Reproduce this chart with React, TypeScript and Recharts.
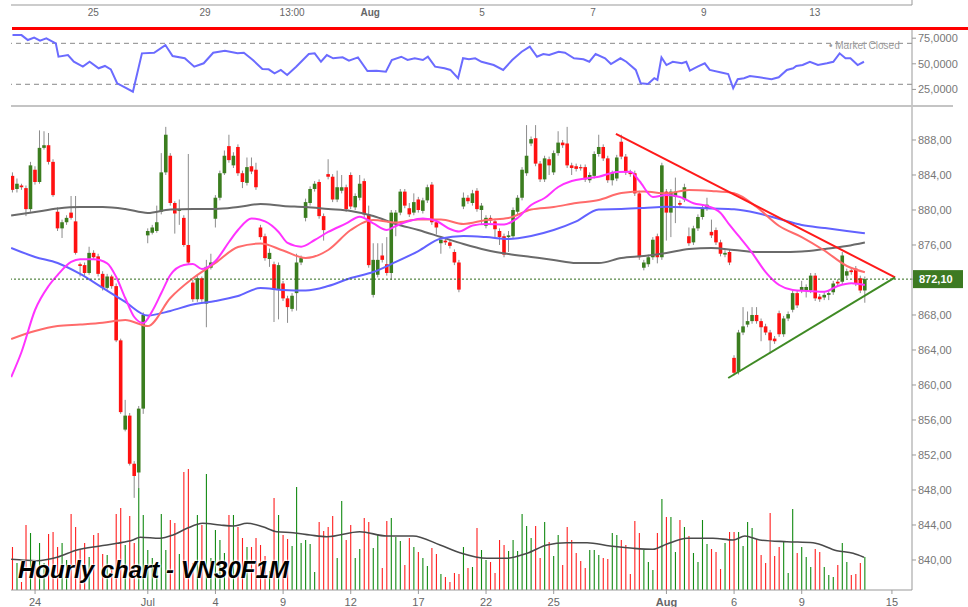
import React from 'react';
import { ComposedChart, Bar, Line, XAxis, YAxis, ReferenceLine } from 'recharts';

// ---------- candle data (hourly, index = candle number) ----------
const opens = [
  883.9,882.4,882.8,882.5,880.1,884.6,883.2,887.1,887.4,885.5,
  879.8,877.9,878.6,879.7,878.7,873.8,873.7,872.8,875.1,874.7,
  872.7,871.1,872.4,871.3,865.1,854.9,856.5,851.0,850.0,857.3,
  877.1,877.4,877.6,879.8,884.3,886.2,880.8,879.9,879.1,876.0,
  871.7,869.8,872.2,869.3,873.4,879.0,881.4,884.2,887.3,885.1,
  887.2,884.2,883.1,885.0,884.6,878.0,877.0,874.4,873.8,870.9,
  871.6,869.9,868.7,870.5,874.0,879.1,880.8,882.4,883.2,879.3,
  884.1,883.8,881.2,882.2,882.6,884.0,880.3,881.4,883.3,879.5,
  870.3,872.6,874.8,873.8,872.8,878.5,879.7,882.1,880.2,879.7,
  881.2,879.9,881.1,882.9,878.6,876.2,876.5,876.3,875.2,874.0,
  880.4,881.4,880.8,882.2,880.0,878.2,879.1,878.7,877.6,877.0,
  876.9,877.0,879.8,881.4,884.2,887.6,888.2,885.3,883.5,885.8,
  884.3,886.5,887.7,887.6,885.1,885.0,884.9,884.9,883.4,883.9,
  886.4,887.2,885.9,883.4,883.6,887.8,886.1,884.3,884.2,881.9,
  873.4,873.8,874.6,877.0,874.6,882.1,879.7,881.5,880.8,881.2,
  877.0,876.3,877.9,879.2,880.2,877.5,877.7,876.3,874.9,875.2,
  863.1,861.5,866.0,866.9,867.3,868.0,867.3,866.7,866.0,865.3,
  868.2,865.8,867.6,868.6,870.5,870.8,870.8,870.8,872.5,870.1,
  870.0,870.3,870.6,871.8,871.8,872.5,873.1,873.3,872.2,870.8,
];
const highs = [
  884.3,883.6,883.0,882.8,885.5,885.0,889.1,889.0,888.8,885.8,
  880.3,878.9,879.4,881.6,881.6,874.0,874.0,875.8,875.4,875.0,
  873.0,872.7,872.6,871.6,865.3,858.3,856.8,851.3,857.6,868.3,
  877.9,878.3,880.5,886.5,889.5,886.5,881.0,881.2,879.4,886.4,
  872.0,872.5,872.4,874.3,875.0,881.7,884.5,886.8,888.6,886.6,
  887.5,884.5,886.0,886.0,885.4,878.3,877.3,875.6,874.1,874.0,
  871.9,870.2,870.5,875.0,874.8,881.3,882.7,883.3,883.5,879.6,
  885.8,884.1,884.5,884.0,882.9,884.3,881.9,884.0,883.6,880.5,
  876.2,876.2,876.2,876.9,880.0,880.0,882.4,882.4,880.8,881.9,
  881.5,881.4,882.9,883.2,878.9,876.9,876.8,876.6,875.5,874.3,
  882.0,881.7,882.3,882.5,880.8,879.4,879.4,879.0,877.9,877.3,
  877.6,880.3,881.7,884.9,889.7,888.4,889.7,885.6,886.2,886.1,
  886.8,889.0,888.0,889.5,885.4,885.3,885.2,885.2,884.3,886.7,
  888.6,887.5,886.2,884.5,886.3,888.6,886.4,884.6,884.5,882.2,
  874.3,874.9,876.9,877.3,885.4,882.4,882.4,883.7,881.1,883.0,
  878.0,878.2,879.5,880.5,881.4,878.9,878.0,876.6,875.4,875.5,
  863.4,866.3,868.9,868.4,868.9,868.9,867.6,867.0,866.3,865.6,
  868.5,867.9,868.4,870.8,870.8,871.9,871.5,872.8,872.8,870.4,
  870.6,870.8,871.9,872.1,875.2,873.3,873.4,873.6,872.5,872.4,
];
const lows = [
  882.0,882.0,882.3,879.3,879.8,882.9,883.0,886.9,885.2,881.5,
  877.6,876.8,878.3,878.9,874.9,872.4,872.5,872.6,874.3,872.4,
  870.8,870.9,871.0,864.9,856.7,854.7,850.8,847.1,848.2,856.7,
  876.2,877.2,877.4,879.5,884.0,880.5,877.3,878.3,875.8,873.8,
  869.5,869.5,869.5,866.6,873.2,878.0,881.1,884.0,885.4,884.8,
  883.9,882.5,882.8,884.1,882.3,876.6,874.2,873.5,867.2,867.5,
  869.6,867.1,868.4,868.5,873.7,878.7,880.5,882.1,879.0,876.5,
  883.5,880.9,880.9,881.9,879.8,880.1,880.0,881.1,879.2,873.4,
  870.0,872.3,874.0,872.5,872.0,877.0,879.4,880.2,879.2,879.4,
  879.7,879.6,880.8,878.3,877.2,875.0,876.0,875.6,873.7,870.6,
  880.1,880.7,880.5,879.8,878.4,877.9,878.5,876.9,876.0,874.6,
  875.2,876.7,879.5,881.1,883.9,887.3,885.0,883.2,883.2,884.0,
  884.0,886.2,887.1,884.8,884.0,884.4,884.5,883.2,883.1,883.6,
  886.1,885.6,883.1,882.8,883.3,885.8,884.0,883.8,881.6,874.3,
  873.1,873.5,874.3,873.9,874.3,876.5,876.9,878.5,880.3,880.9,
  875.9,876.0,877.6,878.9,879.9,876.8,876.0,874.7,874.6,873.7,
  861.1,861.2,865.7,866.6,867.0,867.0,865.0,865.7,863.6,864.7,
  865.5,865.5,867.3,868.3,868.8,870.5,870.0,870.5,869.6,869.5,
  869.7,869.7,870.3,871.3,871.5,872.2,872.6,871.3,870.5,869.4,
];
const closes = [
  882.3,883.0,882.6,880.1,885.1,883.2,887.1,887.4,885.5,881.7,
  877.9,878.6,879.1,879.1,875.1,873.6,872.8,875.1,874.6,872.7,
  871.1,872.4,871.3,865.1,856.9,856.5,851.0,849.6,857.3,868.0,
  877.6,878.0,878.6,884.3,888.6,880.8,879.6,880.1,876.0,874.0,
  869.8,872.2,869.8,873.5,874.0,881.4,884.2,886.2,885.7,886.2,
  884.2,883.2,884.9,884.4,882.6,876.9,874.5,875.1,870.9,873.7,
  869.9,868.9,870.2,874.0,874.5,880.9,882.4,883.0,879.3,877.7,
  883.8,881.2,882.6,882.6,880.1,880.4,881.6,883.0,879.5,873.7,
  874.3,874.3,874.3,872.8,879.7,879.7,882.1,880.5,879.5,880.9,
  880.0,881.1,882.6,878.6,878.0,876.6,876.3,875.9,874.0,870.9,
  881.4,881.0,881.9,880.1,880.5,879.1,878.8,877.8,876.9,874.9,
  877.1,880.0,881.4,884.6,886.2,888.1,885.3,883.5,885.9,885.1,
  886.5,887.7,887.4,885.1,884.8,884.7,884.8,883.5,884.0,886.4,
  887.2,885.9,883.4,884.2,886.0,886.1,884.3,884.1,881.9,874.6,
  874.0,874.6,876.6,874.6,885.1,879.7,882.1,882.1,880.6,882.6,
  876.2,877.9,879.2,880.2,880.6,877.1,876.3,875.0,875.1,874.0,
  861.4,866.0,866.7,867.3,868.0,867.3,866.6,866.0,865.1,865.0,
  865.8,867.6,868.1,870.5,869.1,871.2,871.2,872.5,869.9,869.8,
  870.3,870.5,871.6,871.6,874.8,873.0,872.9,871.6,870.8,872.1,
];
// volume (hundreds of contracts)
const volumes = [
  43,27,8,65,57,30,47,27,56,58,
  43,47,30,76,63,40,47,33,55,57,
  36,35,20,76,82,45,74,47,102,75,
  40,32,27,76,40,70,67,36,118,121,
  27,75,65,116,32,60,50,37,75,75,
  63,52,43,43,52,45,34,19,92,75,
  55,51,44,103,47,50,46,18,68,59,
  63,74,32,89,50,65,32,41,72,68,
  42,56,22,69,72,53,49,25,52,43,
  38,32,24,42,36,16,13,8,17,16,
  43,22,23,62,40,30,28,17,50,45,
  39,50,39,76,64,52,64,32,68,48,
  34,55,25,63,50,37,29,22,40,40,
  35,32,31,57,55,50,45,16,69,57,
  40,28,20,57,91,73,73,38,70,63,
  54,37,28,70,46,41,38,21,47,58,
  58,58,44,68,62,51,35,27,77,34,
  43,48,17,81,37,43,33,23,41,38,
  23,15,13,25,47,28,15,16,27,33,
];

// ---------- moving averages ----------
const maIdx = [-0.3,5,10,15,20,25,30,35,40,45,50,55,60,65,70,75,80,85,90,95,100,105,110,115,120,125,130,135,140,145,150,155,160,165,170,175,180,185,189];
const maGray = [879.37,879.77,880.17,880.34,880.34,880.11,879.66,880.06,880.11,880.11,880.34,880.69,880.46,880.34,880.11,879.89,879.31,878.4,877.71,876.91,876.11,875.43,874.97,874.63,874.29,873.94,873.94,874.51,874.74,875.09,875.54,875.66,875.43,875.2,875.2,875.26,875.54,875.89,876.29];
const maBlue = [875.66,874.63,873.94,872.69,871.09,869.49,867.94,868.46,869.2,869.6,870.17,871.09,870.86,870.8,871.31,872.23,872.91,874.06,875.31,876.74,877.03,876.91,876.69,877.03,877.71,878.69,880.06,880.11,880.23,880.38,880.29,880.17,880.08,879.66,878.97,878.29,877.94,877.6,877.34];
const maSalmon = [865.26,866.17,866.74,866.91,867.11,867.43,866.74,869.94,872.19,873.94,875.77,876.17,875.37,874.51,875.43,877.71,878.86,878.57,878.91,878.91,878.4,878.86,879.09,880.06,880.34,880.8,881.14,881.94,882.11,881.91,882.29,882.17,881.91,880.34,878.17,876.91,875.37,873.6,872.88];
const pinkIdx = [-0.3,2,5,8,10,13,15,18,21,23,25,27,29,31,33,35,38,40,42,45,48,50,53,56,59,61,64,67,70,74,77,80,83,85,88,91,94,97,99,102,105,109,112,115,118,121,124,127,130,134,137,139,142,145,148,151,154,157,159,161,164,167,170,173,176,180,183,186,189];
const maPink = [860.9,863.77,868.57,871.31,872.57,874.06,874.37,874.37,873.91,872.34,869.94,867.77,867.09,868.46,870.51,872.57,873.71,873.83,873.26,874.17,876.34,877.71,879.03,878.69,877.49,876.23,875.81,876.57,877.49,878.46,879.23,878.47,877.71,878.17,878.74,879.03,878.74,877.83,877.54,878.23,878.4,878.34,879.09,880.57,881.37,882.63,883.31,883.6,883.81,884.34,884.38,883.31,881.49,881.71,881.49,880.77,880.46,879.66,878.29,877.03,875.09,872.91,871.43,870.86,870.74,870.66,871.31,871.62,871.43];
const volMaIdx = [-0.3,5.4,9.9,14.3,19.4,23.2,26.7,28.3,32.7,35.6,38.7,42.2,46,48.9,52,55.5,58.6,62.2,66,69.7,77,83,88.8,94.8,99.2,105.2,109.6,114.1,118.5,122.9,127.4,132.5,137.6,142,145.1,149.6,155.3,159.8,162.4,165.7,171.7,177.5,182.8,186.4,188.8];
const volMa = [30.7,29.3,32.7,40,44,46.7,50,52.7,51.7,55,61.7,66.7,65,64,66.7,63.3,58.3,57.3,55,53.3,58.3,54,54,45,37.3,31.7,31.7,36.7,45,47.3,47.3,44,41.7,40.7,46,51.7,51.7,50,54,50,48.3,47.3,39.3,36.7,32.7];

// ---------- RSI panel ----------
const rsiIdx = [0,2,3.4,4.8,6.1,7.5,9.6,10.2,12.3,13.6,15.6,17.1,19.1,20.5,21.8,23.2,24.6,26.7,28.7,31.4,33.9,35.5,38.2,40.3,42.4,44.5,47.1,49.9,51.3,53.3,55.4,56.8,58.1,59.5,60.9,62.9,65.7,67,68.4,69.7,71.1,73.2,74.6,76.6,78.7,80.7,82.8,84.1,86.2,87.6,89.2,91,92.1,93.7,95.8,97.1,98.8,99.9,101.2,102.6,104,106.7,108.8,110.8,112.9,114.7,116.3,117.7,119,121.1,122.5,124.5,126.6,127.9,129.3,131.4,132.7,134.8,136.1,138.2,139.3,140.9,142.3,143,143.9,145,146.4,148.4,149.4,150.2,151.9,153.5,154.6,157.4,158.7,159.8,160.8,162.2,163.5,165.6,168.3,169.9,171.7,173.1,173.8,175.2,176.8,178.6,180.6,182,183.4,184.7,185.8,187.4,188.8];
const rsiVals = [78.1,78,73.2,75.5,72.5,74.9,70,57,58.6,52,47.2,52,45.6,47.9,44.6,31,27.7,22.8,60.2,60.8,68.3,57.6,55.4,47.2,50.5,60.8,62.8,60.2,60.8,53.7,44.9,44.6,40.7,44,39.1,47.2,59.6,60.2,52,58.6,55.4,56.3,53,56.3,43,43.3,42.3,53.7,56.9,53.7,55.4,53.7,56.9,47.2,45.6,44,35.9,55.4,54.4,55.4,52,48.8,44,53.7,61.8,66.7,56.9,59.6,58.6,61.8,60.8,55.4,54.4,52,59.6,55.4,49.8,55.4,52,44,31,30.3,35.9,34.2,56.3,48.8,52,50.5,52,43.3,47.2,50.5,44,41.3,40,26.1,34.9,35.9,38.1,36.8,34.9,36.8,44,45.6,47.9,48.8,52,48.8,50.5,52,60.2,55.4,55.4,48.8,52];
const rsiTicks = [25, 50, 75];
const rsiLevels = [70, 30];

// ---------- axes ----------
const bottomTickIdx = [5, 30, 45, 60, 75, 90, 105, 120, 145, 160, 175, 195];
const bottomTickLabels = ['24', 'Jul', '4', '9', '12', '17', '22', '25', 'Aug', '6', '9', '15'];
const topTickIdx = [17.9, 42.7, 62, 79.3, 104.1, 128.7, 153.3, 177.9];
const topTickLabels = ['25', '29', '13:00', 'Aug', '5', '7', '9', '13'];
const lastClose = 872.1;
const priceTicks = [840, 844, 848, 852, 856, 860, 864, 868, lastClose, 876, 880, 884, 888];
const resistanceLine = [{ x: 133.8, y: 888.7 }, { x: 195.7, y: 872.3 }];
const supportLine = [{ x: 158.7, y: 860.8 }, { x: 195.7, y: 872.3 }];

const X_DOMAIN: [number, number] = [-0.333, 199.45];
const PRICE_DOMAIN: [number, number] = [836.57, 891.77];
const FONT = "'Liberation Sans', Arial, sans-serif";
const UP = '#3b7d1f';
const DOWN = '#ff1111';

const candles = opens.map((o, i) => ({
  i, o, h: highs[i], l: lows[i], c: closes[i], range: [lows[i], highs[i]], vol: volumes[i],
}));
const mk = (idx: number[], vals: number[]) => idx.map((i, k) => ({ i, v: vals[k] }));
const grayData = mk(maIdx, maGray);
const blueData = mk(maIdx, maBlue);
const salmonData = mk(maIdx, maSalmon);
const pinkData = mk(pinkIdx, maPink);
const volMaData = mk(volMaIdx, volMa);
const rsiData = mk(rsiIdx, rsiVals);
const topData = topTickIdx.map((i) => ({ i }));

const fmtPrice = (v: number) => v.toFixed(2).replace('.', ',');

const CandleShape = (props: any) => {
  const { x, y, width, height, payload } = props;
  if (!payload || height == null || isNaN(y)) return null;
  const top0 = height < 0 ? y + height : y;
  const hh = Math.abs(height);
  const { o, h, l, c } = payload;
  const ppu = hh / (h - l);
  const cx = x + width / 2;
  const bTop = top0 + (h - Math.max(o, c)) * ppu;
  const bBot = top0 + (h - Math.min(o, c)) * ppu;
  return (
    <g>
      <line x1={cx} x2={cx} y1={top0} y2={top0 + hh} stroke="#8c8c8c" strokeWidth={1} />
      <rect x={cx - 1.8} y={bTop} width={3.6} height={Math.max(bBot - bTop, 1.2)} fill={c >= o ? UP : DOWN} />
    </g>
  );
};

const VolShape = (props: any) => {
  const { x, y, width, height, payload } = props;
  if (!payload || height == null || isNaN(y)) return null;
  const top0 = height < 0 ? y + height : y;
  const cx = x + width / 2;
  return <rect x={cx - 0.55} y={top0} width={1.1} height={Math.abs(height)} fill={payload.c >= payload.o ? '#138a13' : '#ff1f1f'} />;
};

const PriceTick = (props: any) => {
  const { x, y, payload } = props;
  const v = payload.value;
  if (Math.abs(v - lastClose) < 0.001) {
    return (
      <g>
        <rect x={x - 5} y={y - 9} width={50} height={18} fill="#3d7a22" />
        <text x={x + 1} y={y} dy={4} fill="#fff" fontSize={11} fontWeight="bold" fontFamily={FONT}>{fmtPrice(v)}</text>
      </g>
    );
  }
  return <text x={x} y={y} dy={4} fill="#777" fontSize={11} fontFamily={FONT}>{fmtPrice(v)}</text>;
};

const BottomTick = (props: any) => {
  const { x, y, index } = props;
  const label = bottomTickLabels[index];
  return (
    <text x={x} y={y} dy={10} textAnchor="middle" fill="#666" fontSize={11} fontFamily={FONT} fontWeight={label === 'Aug' ? 'bold' : 'normal'}>
      {label}
    </text>
  );
};

const TopTick = (props: any) => {
  const { x, y, index } = props;
  const label = topTickLabels[index];
  return (
    <text x={x} y={y} dy={9} textAnchor="middle" fill="#666" fontSize={10} fontFamily={FONT} fontWeight={label === 'Aug' ? 'bold' : 'normal'}>
      {label}
    </text>
  );
};

export default function App() {
  return (
    <div style={{ position: 'absolute', left: 0, top: 0, width: 968, height: 607, background: '#fff', overflow: 'hidden', fontFamily: FONT }}>
      {/* strip left over from the chart above */}
      <div style={{ position: 'absolute', left: 0, top: 0 }}>
        <ComposedChart width={968} height={27} data={topData} margin={{ top: 0, right: 0, bottom: 0, left: 11 }}>
          <XAxis dataKey="i" type="number" domain={X_DOMAIN} allowDataOverflow ticks={topTickIdx} interval={0} height={22} tickSize={0} tick={<TopTick />} stroke="#999" />
          <YAxis orientation="right" width={56} domain={[0, 1]} tick={false} tickLine={false} stroke="#999" />
        </ComposedChart>
      </div>
      <div style={{ position: 'absolute', left: 12, top: 27, width: 956, height: 3, background: '#ff0000' }} />

      {/* RSI panel */}
      <div style={{ position: 'absolute', left: 0, top: 30 }}>
        <ComposedChart width={968} height={76} margin={{ top: 0, right: 0, bottom: 0, left: 11 }}>
          <XAxis dataKey="i" type="number" domain={X_DOMAIN} allowDataOverflow hide />
          <YAxis orientation="right" width={56} domain={[8.8, 83]} allowDataOverflow ticks={rsiTicks} interval={0} tickSize={4} stroke="#999"
            tickFormatter={(v: number) => v.toFixed(4).replace('.', ',')} tick={{ fill: '#777', fontSize: 11, fontFamily: FONT }} />
          {rsiLevels.map((lv) => (
            <ReferenceLine key={lv} y={lv} stroke="#888" strokeDasharray="5 4" strokeWidth={1} />
          ))}
          <Line data={rsiData} dataKey="v" type="linear" stroke="#6b6bff" strokeWidth={2} dot={false} activeDot={false} isAnimationActive={false} />
        </ComposedChart>
      </div>
      <div style={{ position: 'absolute', left: 11, top: 105, width: 942, height: 2, background: '#c4c4c4' }} />
      <div style={{ position: 'absolute', left: 829, top: 40, fontSize: 10, color: '#9a9a9a', whiteSpace: 'nowrap', fontFamily: FONT }}>• Market Closed</div>

      {/* main price panel */}
      <div style={{ position: 'absolute', left: 0, top: 107 }}>
        <ComposedChart width={968} height={500} data={candles} margin={{ top: 0, right: 0, bottom: 0, left: 11 }}>
          <XAxis xAxisId="p" dataKey="i" type="number" domain={X_DOMAIN} allowDataOverflow ticks={bottomTickIdx} interval={0} height={17} tickSize={4} tick={<BottomTick />} stroke="#999" />
          <XAxis xAxisId="v" dataKey="i" type="number" domain={X_DOMAIN} allowDataOverflow hide />
          <YAxis yAxisId="p" orientation="right" width={56} domain={PRICE_DOMAIN} allowDataOverflow ticks={priceTicks} interval={0} tickSize={4} tick={<PriceTick />} stroke="#999" />
          <YAxis yAxisId="v" hide domain={[0, 483]} allowDataOverflow />

          <Bar xAxisId="v" yAxisId="v" dataKey="vol" barSize={2} shape={VolShape} isAnimationActive={false} />
          <Line xAxisId="v" yAxisId="v" data={volMaData} dataKey="v" type="monotone" stroke="#4a4a4a" strokeWidth={1.6} dot={false} activeDot={false} isAnimationActive={false} />

          <Line xAxisId="p" yAxisId="p" data={grayData} dataKey="v" type="monotone" stroke="#6a6a6a" strokeWidth={2} dot={false} activeDot={false} isAnimationActive={false} />
          <Line xAxisId="p" yAxisId="p" data={blueData} dataKey="v" type="monotone" stroke="#6262ff" strokeWidth={2} dot={false} activeDot={false} isAnimationActive={false} />
          <Line xAxisId="p" yAxisId="p" data={salmonData} dataKey="v" type="monotone" stroke="#ff6b6b" strokeWidth={2} dot={false} activeDot={false} isAnimationActive={false} />
          <Line xAxisId="p" yAxisId="p" data={pinkData} dataKey="v" type="monotone" stroke="#ff33ff" strokeWidth={2} dot={false} activeDot={false} isAnimationActive={false} />

          <ReferenceLine xAxisId="p" yAxisId="p" y={lastClose} stroke="#2f6b1a" strokeDasharray="2 2" strokeWidth={1} />
          <Bar xAxisId="p" yAxisId="p" dataKey="range" barSize={4} shape={CandleShape} isAnimationActive={false} />

          <ReferenceLine xAxisId="p" yAxisId="p" segment={resistanceLine} stroke="#ff1a1a" strokeWidth={2} ifOverflow="visible" />
          <ReferenceLine xAxisId="p" yAxisId="p" segment={supportLine} stroke="#3f8a24" strokeWidth={2} ifOverflow="visible" />
        </ComposedChart>
      </div>

      <div style={{ position: 'absolute', left: 18, top: 556, fontSize: 24, fontWeight: 'bold', fontStyle: 'italic', color: '#000', whiteSpace: 'nowrap', fontFamily: FONT,
        textShadow: '0 0 2px #fff, 0 0 2px #fff, 0 0 3px #fff' }}>
        Hourly chart - VN30F1M
      </div>
    </div>
  );
}
